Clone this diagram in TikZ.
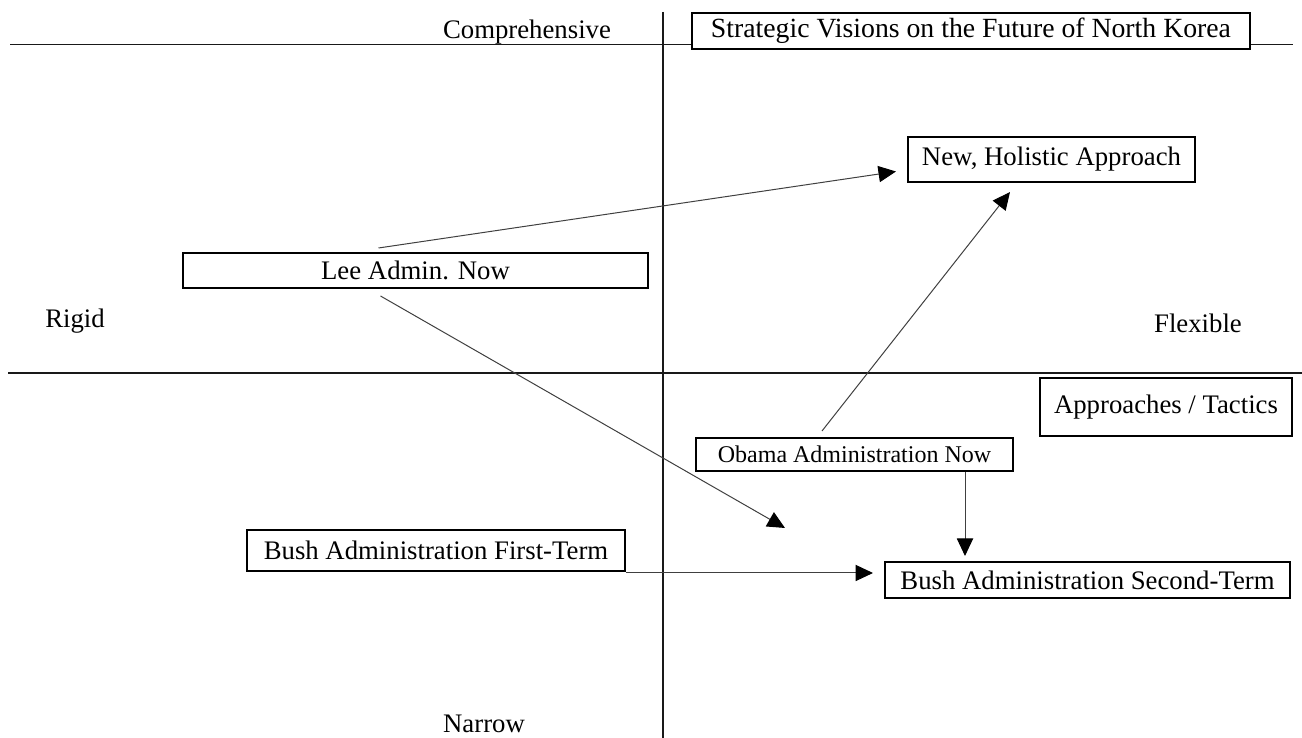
\documentclass[tikz,border=0pt]{standalone}
\usepackage{fontspec}
\setmainfont{Liberation Serif}
\usetikzlibrary{arrows.meta,calc}
\begin{document}
\begin{tikzpicture}[x={(0.4pt,0)},y={(0,-0.4pt)},
  box/.style={draw=black,line width=0.8pt,fill=white,rectangle,inner sep=0pt,
    font=\fontsize{10.7}{12}\selectfont,anchor=center},
  lbl/.style={font=\fontsize{10.7}{12}\selectfont,inner sep=0pt,anchor=center},
  axis/.style={line width=0.55pt,black!90},
  conn/.style={line width=0.4pt,black!75,-{Triangle[length=7pt,width=6.5pt,color=black]}}]
\useasboundingbox (0,0) rectangle (1302,738);
% axes
\draw[axis] (10,44.5) -- (1293,44.5);
\draw[axis] (8,373) -- (1302,373);
\draw[axis] (663,12) -- (663,738);
% labels
\node[lbl] (comp) at (527,32) {Comprehensive};
\node[lbl] (rigid) at (75,321) {Rigid};
\node[lbl] (flex) at (1198,323) {Flexible};
\node[lbl] (narrow) at (484,724) {Narrow};
% boxes
\node[box,minimum width=223.2pt,minimum height=14.4pt,font=\fontsize{11.1}{12}\selectfont] (title) at (971,31) {Strategic Visions on the Future of North Korea};
\node[box,minimum width=114.8pt,minimum height=18pt] (new) at (1051.5,159.5) {New, Holistic Approach};
\node[box,minimum width=186pt,minimum height=14pt] (lee) at (415.5,270.5) {Lee Admin. Now};
\node[box,minimum width=100.8pt,minimum height=23.2pt] (appr) at (1166,407) {Approaches / Tactics};
\node[box,minimum width=126.8pt,minimum height=13.2pt,font=\fontsize{9.6}{11}\selectfont] (obama) at (854.5,454.5) {Obama Administration Now};
\node[box,minimum width=151.2pt,minimum height=16.4pt] (bush1) at (436,550.5) {Bush Administration First-Term};
\node[box,minimum width=162pt,minimum height=14.4pt] (bush2) at (1087.5,580) {Bush Administration Second-Term};
\coordinate (free) at (785,528);
% connectors
\draw[conn] ($(lee.north)+(-37,-4)$) -- ($(new.west)+(-11,12)$);
\draw[conn] ($(lee.south)+(-35,7)$) -- (free);
\draw[conn] ($(obama.north)+(-32.5,-6)$) -- ($(new.south)+(-41.5,9)$);
\draw[conn] (obama.south -| 965,0) -- ($(bush2.north -| 965,0)+(0,-5)$);
\draw[conn] (bush1.east |- 0,573) -- ($(bush2.west |- 0,573)+(-11,0)$);
\end{tikzpicture}
\end{document}
